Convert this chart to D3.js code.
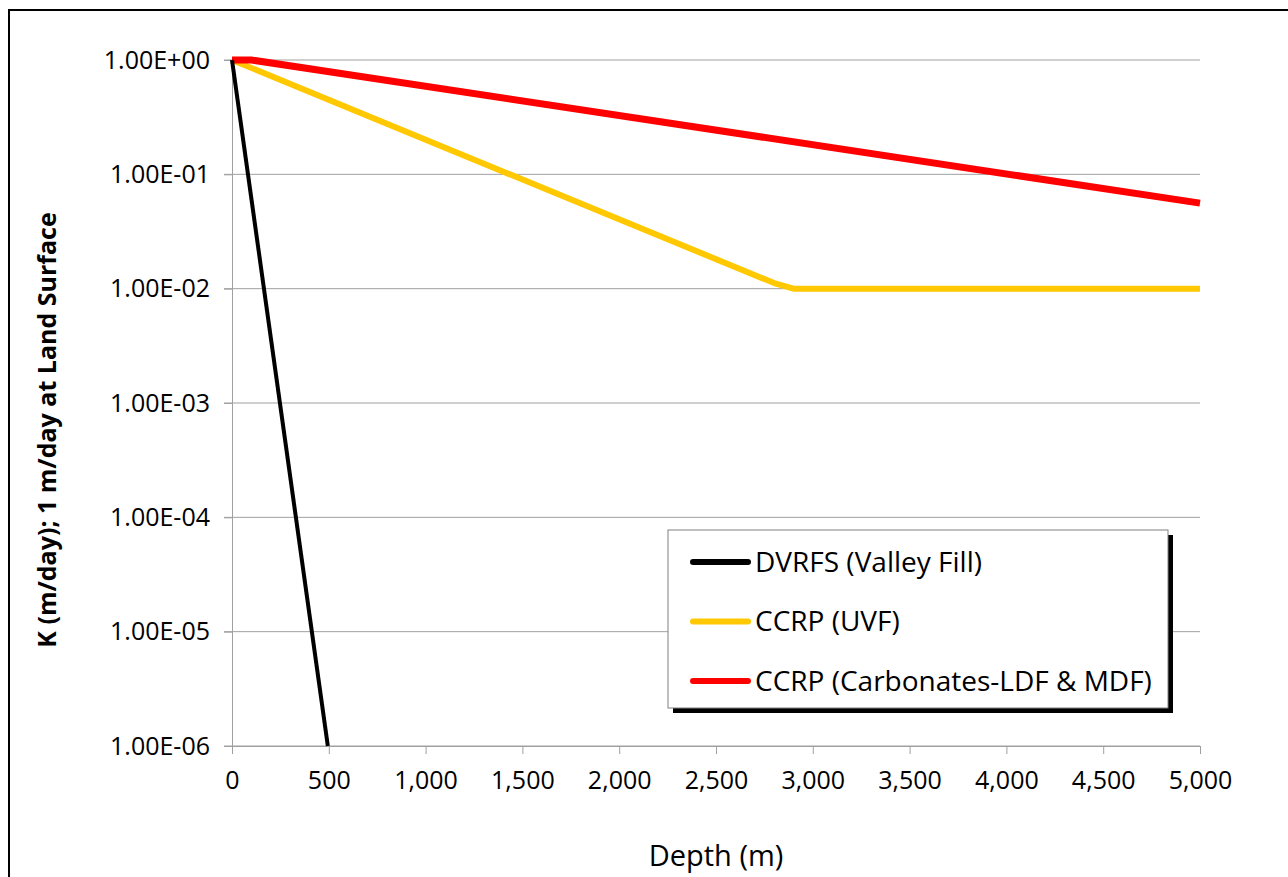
<!DOCTYPE html>
<html>
<head>
<meta charset="utf-8">
<script src="https://cdn.jsdelivr.net/npm/d3@7"></script>
<style>
  body { margin: 0; background: #fff; }
  svg { display: block; }
  svg text { font-family: "Open Sans", "Noto Sans", sans-serif; }
</style>
</head>
<body>
<svg id="chart" width="1288" height="877"></svg>
<script>
// depth (m) vs K (m/day)
const dvrfsDepth = [0, 495];
const dvrfsK = [1, 1e-6];
const uvfDepth = [0, 2800, 2900, 5000];
const uvfK = [1, 0.0112, 0.01, 0.01];
const carbDepth = [0, 100, 5000];
const carbK = [1, 1, 0.056];

const seriesNames = ["DVRFS (Valley Fill)", "CCRP (UVF)", "CCRP (Carbonates-LDF & MDF)"];
const seriesColors = ["#000000", "#FFC800", "#FF0000"];
const seriesWidths = [4, 6, 7];

const xTicks = [0, 500, 1000, 1500, 2000, 2500, 3000, 3500, 4000, 4500, 5000];
const yTicks = [1, 1e-1, 1e-2, 1e-3, 1e-4, 1e-5, 1e-6];
const yTickLabels = ["1.00E+00", "1.00E-01", "1.00E-02", "1.00E-03", "1.00E-04", "1.00E-05", "1.00E-06"];

var svg = d3.select("#chart");

// outer chart border (runs off the right and bottom edges)
svg.append("rect")
    .attr("x", 9).attr("y", 10)
    .attr("width", 1300).attr("height", 900)
    .attr("fill", "none")
    .attr("stroke", "#000")
    .attr("stroke-width", 2);

var x = d3.scaleLinear().domain([0, 5000]).range([232, 1200]);
var y = d3.scaleLog().domain([1e-6, 1]).range([746, 60]);

// gridlines
svg.append("g")
    .selectAll("line")
    .data(yTicks)
    .enter()
    .append("line")
    .attr("x1", 224)
    .attr("x2", 1200)
    .attr("y1", function(d) { return y(d); })
    .attr("y2", function(d) { return y(d); })
    .attr("stroke", "#a0a0a0")
    .attr("stroke-width", 1);

// y axis
var yAxis = d3.axisLeft(y)
    .tickValues(yTicks)
    .tickSize(8)
    .tickPadding(14)
    .tickFormat(function(d, i) { return yTickLabels[i]; });
var yg = svg.append("g").attr("transform", "translate(232,0)").call(yAxis);
yg.select(".domain").attr("stroke", "#a0a0a0");
yg.selectAll(".tick line").attr("stroke", "#a0a0a0");
yg.selectAll(".tick text")
    .attr("fill", "#000")
    .style("font-size", "25px");

// x axis
var xAxis = d3.axisBottom(x)
    .tickValues(xTicks)
    .tickSize(8)
    .tickPadding(17)
    .tickFormat(d3.format(","));
var xg = svg.append("g").attr("transform", "translate(0,746)").call(xAxis);
xg.select(".domain").attr("stroke", "#a0a0a0");
xg.selectAll(".tick line").attr("stroke", "#a0a0a0");
xg.selectAll(".tick text")
    .attr("fill", "#000")
    .style("font-size", "25px");

// axis titles
svg.append("text")
    .attr("x", 716)
    .attr("y", 866)
    .attr("text-anchor", "middle")
    .style("font-size", "29px")
    .text("Depth (m)");

svg.append("text")
    .attr("transform", "translate(56,430) rotate(-90)")
    .attr("text-anchor", "middle")
    .style("font-size", "25px")
    .style("font-weight", "bold")
    .text("K (m/day); 1 m/day at Land Surface");

// series lines
var line = d3.line()
    .x(function(d) { return x(d[0]); })
    .y(function(d) { return y(d[1]); });

var series = [
    d3.zip(dvrfsDepth, dvrfsK),
    d3.zip(uvfDepth, uvfK),
    d3.zip(carbDepth, carbK)
];

// draw black last so it's on top at the origin, yellow under red
var drawOrder = [1, 2, 0];
drawOrder.forEach(function(i) {
    svg.append("path")
        .datum(series[i])
        .attr("d", line)
        .attr("fill", "none")
        .attr("stroke", seriesColors[i])
        .attr("stroke-width", seriesWidths[i])
        .attr("stroke-linejoin", "round");
});

// legend
var legend = svg.append("g").attr("transform", "translate(668,530)");
legend.append("rect")
    .attr("x", 5).attr("y", 5)
    .attr("width", 500).attr("height", 178)
    .attr("fill", "#000");
legend.append("rect")
    .attr("x", 0).attr("y", 0)
    .attr("width", 500).attr("height", 178)
    .attr("fill", "#fff")
    .attr("stroke", "#808080")
    .attr("stroke-width", 1);

seriesNames.forEach(function(name, i) {
    var ly = 32 + i * 59.5;
    legend.append("line")
        .attr("x1", 25).attr("x2", 80)
        .attr("y1", ly).attr("y2", ly)
        .attr("stroke", seriesColors[i])
        .attr("stroke-width", 6)
        .attr("stroke-linecap", "round");
    legend.append("text")
        .attr("x", 87)
        .attr("y", ly)
        .attr("dy", "0.35em")
        .style("font-size", "28px")
        .text(name);
});
</script>
</body>
</html>
